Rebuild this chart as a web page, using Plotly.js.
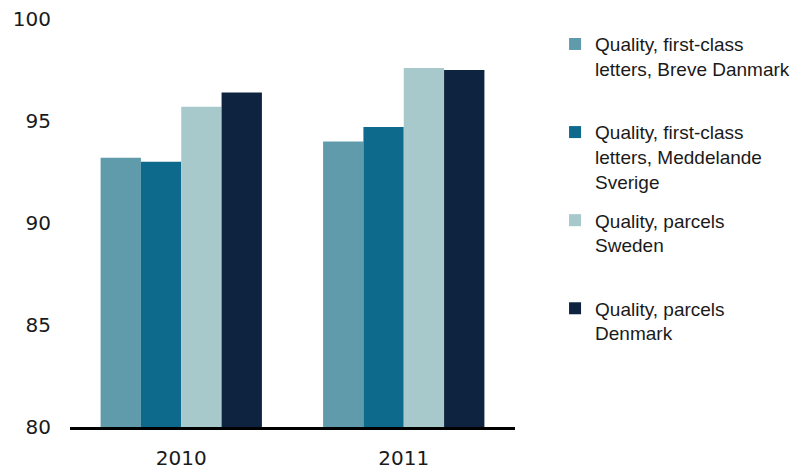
<!DOCTYPE html>
<html>
<head>
<meta charset="utf-8">
<script src="https://cdn.plot.ly/plotly-3.0.1.min.js"></script>
<style>html,body{margin:0;padding:0;background:#fff;}#chart{width:801px;height:470px;}</style>
</head>
<body>
<div id="chart"></div>
<script>
var years = ['2010', '2011'];
var seriesNames = [
  'Quality, first-class<br>letters, Breve Danmark<br> ',
  'Quality, first-class<br>letters, Meddelande<br>Sverige',
  'Quality, parcels<br>Sweden<br> ',
  'Quality, parcels<br>Denmark<br> '
];
var breveDanmark = [93.2, 94.0];
var meddelandeSverige = [93.0, 94.7];
var parcelsSweden = [95.7, 97.6];
var parcelsDenmark = [96.4, 97.5];
var colors = ['#5f9bab', '#0e6a8d', '#a8c9cc', '#0e233f'];

var values = [breveDanmark, meddelandeSverige, parcelsSweden, parcelsDenmark];
var data = values.map(function (v, i) {
  return {
    type: 'bar',
    x: years,
    y: v,
    name: seriesNames[i],
    legendgroup: 'g' + i,
    marker: { color: colors[i], line: { width: 0 } },
    hoverinfo: 'y'
  };
});

var layout = {
  width: 801,
  height: 470,
  margin: { l: 70, r: 286, t: 19, b: 43, autoexpand: false },
  paper_bgcolor: '#ffffff',
  plot_bgcolor: '#ffffff',
  barmode: 'group',
  bargap: 0.275,
  bargroupgap: 0,
  showlegend: true,
  legend: {
    x: 1.09,
    xanchor: 'left',
    y: 0.985,
    yanchor: 'top',
    valign: 'top',
    tracegroupgap: 11,
    maxheight: 460,
    font: { family: 'Liberation Sans, Arial, sans-serif', size: 19, color: '#1a1a1a' },
    bgcolor: 'rgba(0,0,0,0)'
  },
  xaxis: {
    type: 'category',
    showline: true,
    linecolor: '#000000',
    linewidth: 3,
    ticks: '',
    showgrid: false,
    zeroline: false,
    ticklabelstandoff: 11,
    tickfont: { family: 'DejaVu Sans, sans-serif', size: 20, color: '#1a1a1a' }
  },
  yaxis: {
    range: [80, 100],
    tickvals: [80, 85, 90, 95, 100],
    ticks: '',
    showline: false,
    showgrid: false,
    zeroline: false,
    ticklabelstandoff: 18,
    tickfont: { family: 'DejaVu Sans, sans-serif', size: 20, color: '#1a1a1a' }
  }
};

Plotly.newPlot('chart', data, layout, { displayModeBar: false, staticPlot: true });
</script>
</body>
</html>
